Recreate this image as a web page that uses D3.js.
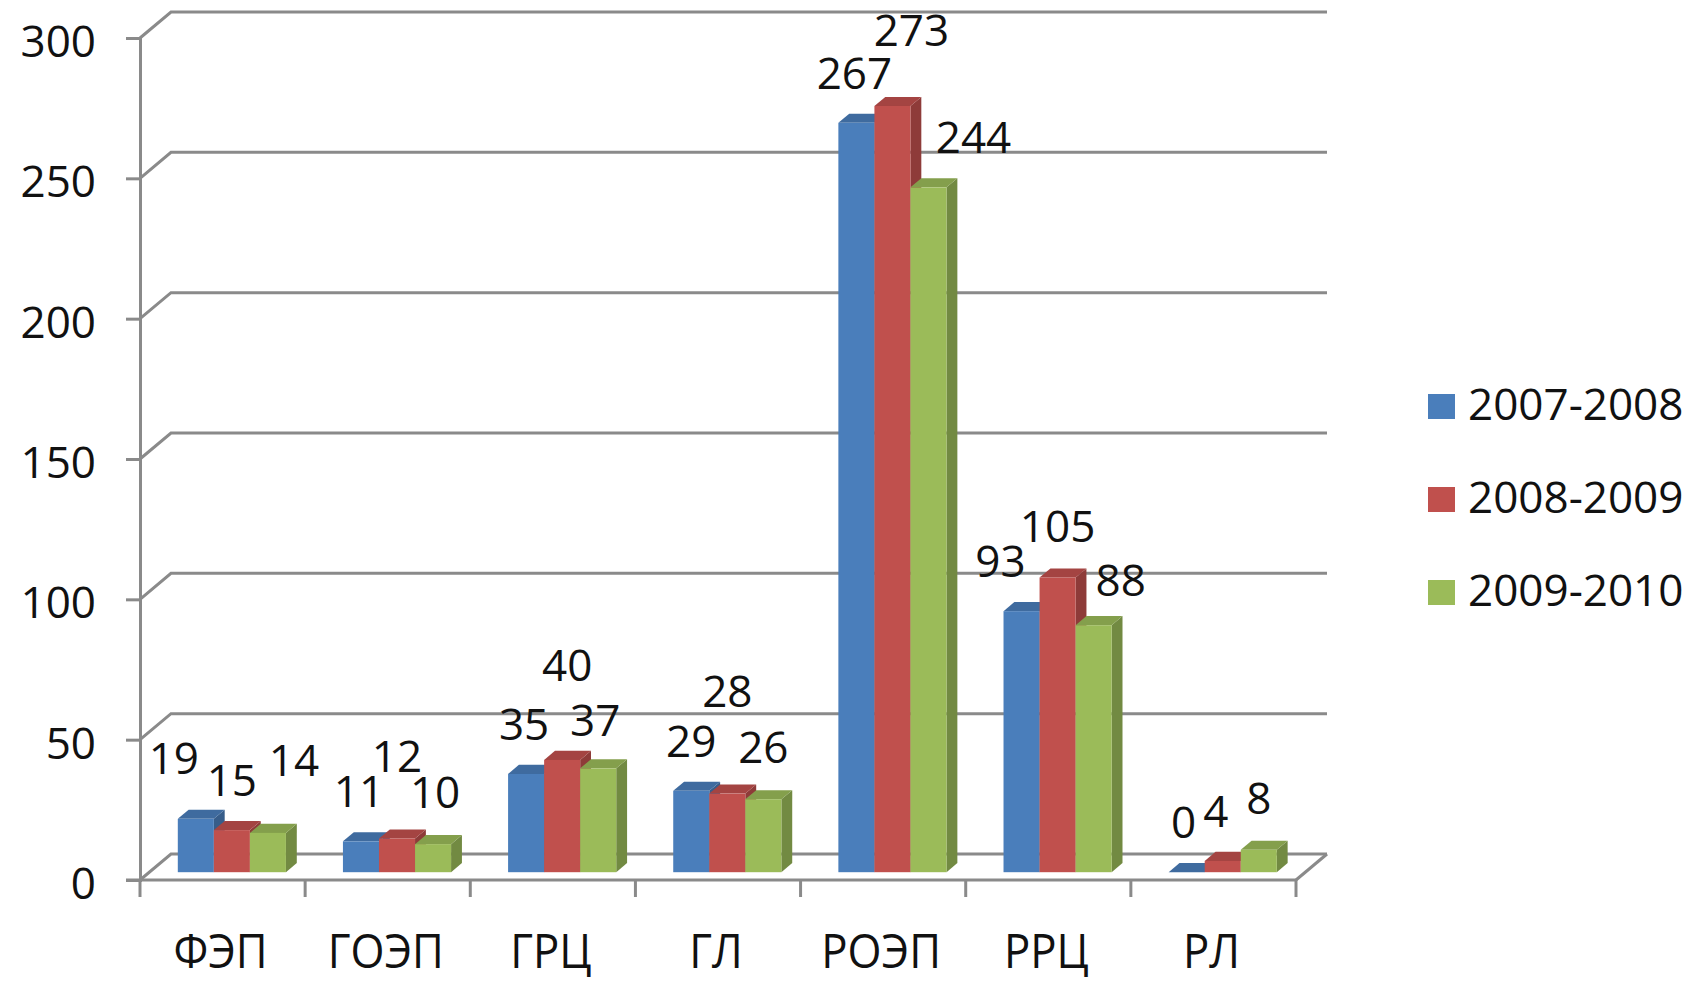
<!DOCTYPE html>
<html>
<head>
<meta charset="utf-8">
<script src="https://cdn.jsdelivr.net/npm/d3@7"></script>
<style>
  html, body { margin: 0; padding: 0; background: #fff; }
  svg { display: block; }
  text { font-family: "Open Sans", sans-serif; fill: #111; }
</style>
</head>
<body>
<div id="chart"></div>
<script>
// Chart data
const categories = ["ФЭП", "ГОЭП", "ГРЦ", "ГЛ", "РОЭП", "РРЦ", "РЛ"];
const seriesNames = ["2007-2008", "2008-2009", "2009-2010"];
const values2007 = [19, 11, 35, 29, 267, 93, 0];
const values2008 = [15, 12, 40, 28, 273, 105, 4];
const values2009 = [14, 10, 37, 26, 244, 88, 8];
const yTicks = [0, 50, 100, 150, 200, 250, 300];

// Manual label nudges (dx, dy) like the original, to keep labels from colliding
const labelNudge = [
  [[-22, -11], [0, 0], [26, -23]],
  [[-2, 0], [0, -33], [2, -2]],
  [[-2, 0], [5, -45], [-3, 2]],
  [[0, 0], [0, -53], [0, -2]],
  [[-2, 0], [19, -26], [45, 0]],
  [[-21, 0], [0, -2], [27, 5]],
  [[-3, 0], [-7, 0], [0, -2]],
];

const colors = ["#4A7EBB", "#C0504D", "#9BBB59"];

const WIDTH = 1694;
const HEIGHT = 987;

// Plot geometry (front plane of the 3D box)
const X_LEFT = 140;
const X_RIGHT = 1296;
const Y_ZERO = 880;
const Y_TOP = 38;
const DEPTH_X = 31; // full floor depth
const DEPTH_Y = -26;
const BAR_Z0 = 0.3; // bar front depth fraction
const BAR_Z1 = 0.65; // bar back depth fraction

const svg = d3
  .select("#chart")
  .append("svg")
  .attr("width", WIDTH)
  .attr("height", HEIGHT);

const x0 = d3.scaleBand().domain(categories).range([X_LEFT, X_RIGHT]);
const x1 = d3
  .scaleBand()
  .domain(seriesNames)
  .range([28.5, x0.bandwidth() - 28.5]);
const y = d3.scaleLinear().domain([0, 300]).range([Y_ZERO, Y_TOP]);

const seriesValues = [values2007, values2008, values2009];

// Shift a point back into the depth of the chart
function dz(z) {
  return [DEPTH_X * z, DEPTH_Y * z];
}

const gridColor = "#8a8a8a";

// Back wall gridlines with the diagonal on the left wall
function drawGrid() {
  const g = svg.append("g").attr("class", "grid");
  const [bx, by] = dz(1);
  yTicks.forEach((t) => {
    const yy = y(t);
    g.append("polyline")
      .attr("points", `${X_LEFT},${yy} ${X_LEFT + bx},${yy + by} ${X_RIGHT + bx},${yy + by}`)
      .attr("fill", "none")
      .attr("stroke", gridColor)
      .attr("stroke-width", 3);
  });
  // right edge of the floor
  g.append("line")
    .attr("x1", X_RIGHT)
    .attr("y1", Y_ZERO)
    .attr("x2", X_RIGHT + bx)
    .attr("y2", Y_ZERO + by)
    .attr("stroke", gridColor)
    .attr("stroke-width", 3);
}

function drawAxes() {
  const yAxis = d3
    .axisLeft(y)
    .tickValues(yTicks)
    .tickSize(14)
    .tickPadding(30);
  const gy = svg.append("g").attr("transform", `translate(${X_LEFT},0)`).call(yAxis);
  gy.select(".domain").attr("stroke", gridColor).attr("stroke-width", 3);
  gy.selectAll(".tick line").attr("stroke", gridColor).attr("stroke-width", 3);
  gy.selectAll(".tick text")
    .attr("font-size", 44)
    .attr("font-family", "Open Sans")
    .attr("fill", "#111")
    .attr("dy", "0.42em");

  // front floor line with ticks at category boundaries
  svg
    .append("line")
    .attr("x1", X_LEFT - 14)
    .attr("x2", X_RIGHT)
    .attr("y1", Y_ZERO)
    .attr("y2", Y_ZERO)
    .attr("stroke", gridColor)
    .attr("stroke-width", 3);

  const bounds = categories.map((c) => x0(c)).concat([X_RIGHT]);
  svg
    .selectAll(".xtick")
    .data(bounds)
    .enter()
    .append("line")
    .attr("class", "xtick")
    .attr("x1", (d) => d)
    .attr("x2", (d) => d)
    .attr("y1", Y_ZERO)
    .attr("y2", Y_ZERO + 17)
    .attr("stroke", gridColor)
    .attr("stroke-width", 3);

  // category names, a little condensed like the original font
  svg
    .selectAll(".xlabel")
    .data(categories)
    .enter()
    .append("text")
    .attr("class", "xlabel")
    .attr(
      "transform",
      (d) => `translate(${x0(d) + x0.bandwidth() / 2 - 2}, 968) scale(0.93, 1)`
    )
    .attr("text-anchor", "middle")
    .attr("font-size", 47)
    .text((d) => d);
}

// Build bar records from the series arrays
function buildBars() {
  const bars = [];
  categories.forEach((cat, i) => {
    seriesNames.forEach((s, j) => {
      const v = seriesValues[j][i];
      const [fx, fy] = dz(BAR_Z0);
      const left = x0(cat) + x1(s) + fx;
      bars.push({
        cat,
        series: s,
        value: v,
        left,
        right: left + x1.bandwidth(),
        bottom: y(0) + fy,
        top: y(v) + fy,
        color: colors[j],
        nudge: labelNudge[i][j],
      });
    });
  });
  return bars;
}

function drawBars(bars) {
  const [ddx, ddy] = dz(BAR_Z1 - BAR_Z0);
  const g = svg.append("g").attr("class", "bars");
  bars.forEach((b) => {
    const base = d3.color(b.color);
    // side face
    g.append("polygon")
      .attr(
        "points",
        `${b.right},${b.bottom} ${b.right + ddx},${b.bottom + ddy} ${b.right + ddx},${b.top + ddy} ${b.right},${b.top}`
      )
      .attr("fill", base.darker(0.85));
    // top face
    g.append("polygon")
      .attr(
        "points",
        `${b.left},${b.top} ${b.left + ddx},${b.top + ddy} ${b.right + ddx},${b.top + ddy} ${b.right},${b.top}`
      )
      .attr("fill", base.darker(0.45));
    // front face
    if (b.value > 0) {
      g.append("rect")
        .attr("x", b.left)
        .attr("y", b.top)
        .attr("width", b.right - b.left)
        .attr("height", b.bottom - b.top)
        .attr("fill", base);
    }
  });
}

function drawLabels(bars) {
  svg
    .selectAll(".vlabel")
    .data(bars)
    .enter()
    .append("text")
    .attr("class", "vlabel")
    .attr("x", (d) => (d.left + d.right) / 2 + d.nudge[0])
    .attr("y", (d) => d.top - 34 + d.nudge[1])
    .attr("text-anchor", "middle")
    .attr("font-size", 44)
    .text((d) => d.value);
}

function drawLegend() {
  const items = svg
    .selectAll(".legendItem")
    .data(seriesNames)
    .enter()
    .append("g")
    .attr("class", "legendItem")
    .attr("transform", (d, i) => `translate(1428, ${407 + i * 93})`);

  items
    .append("rect")
    .attr("x", 0)
    .attr("y", -13)
    .attr("width", 27)
    .attr("height", 25)
    .attr("fill", (d, i) => colors[i]);

  items
    .append("text")
    .attr("x", 40)
    .attr("y", 13)
    .attr("font-size", 44)
    .text((d) => d);
}

const bars = buildBars();
drawGrid();
drawBars(bars);
drawAxes();
drawLabels(bars);
drawLegend();
</script>
</body>
</html>
